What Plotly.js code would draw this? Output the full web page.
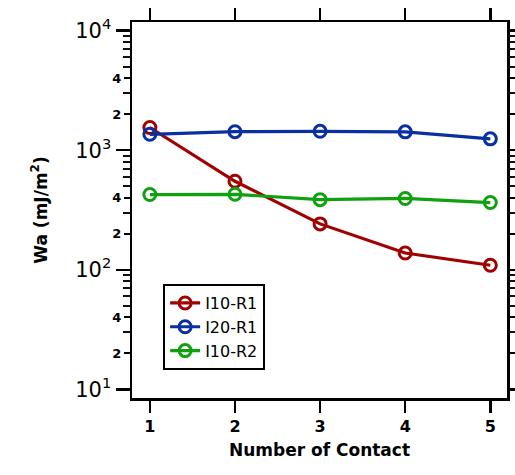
<!DOCTYPE html>
<html><head><meta charset="utf-8">
<script src="https://cdn.plot.ly/plotly-3.0.1.min.js"></script>
<style>html,body{margin:0;padding:0;background:#fff}</style>
</head><body>
<div id="chart" style="width:515px;height:475px"></div>
<script>
const contacts = [1, 2, 3, 4, 5];
const seriesNames = ["I10-R1", "I20-R1", "I10-R2"];
const i10r1 = [1550, 550, 242, 138, 109];
const i20r1 = [1360, 1430, 1440, 1425, 1245];
const i10r2 = [426, 428, 386, 395, 365];
const majorTicks = [10, 100, 1000, 10000];
const majorText = ["10<sup>1</sup>", "10<sup>2</sup>", "10<sup>3</sup>", "10<sup>4</sup>"];
const labeledMinor = [20, 40, 200, 400, 2000, 4000];
const labeledMinorText = ["2", "4", "2", "4", "2", "4"];
const minorTicks = [];
[10, 100, 1000].forEach(d => [3, 5, 6, 7, 8, 9].forEach(m => minorTicks.push(d*m)));
const minorText = minorTicks.map(() => "x");

const colors = ["#a00000", "#0a2fa0", "#10a010"];
const font = "DejaVu Sans, Verdana, sans-serif";
function tr(y, i) {
  return {x: contacts, y: y, name: seriesNames[i], mode: "lines+markers", type: "scatter",
    line: {color: colors[i], width: 3.2},
    marker: {symbol: "circle-open", size: 12, color: colors[i], line: {width: 3, color: colors[i]}}};
}
const dummy = ax => ({x:[1], y:[100], yaxis: ax, mode:"markers", marker:{opacity:0}, showlegend:false, hoverinfo:"skip"});
const data = [tr(i10r1,0), tr(i20r1,1), tr(i10r2,2), dummy("y2"), dummy("y3")];
const yr = [0.927, 4.073];
const layout = {
  width: 515, height: 475,
  margin: {l: 132, r: 8, t: 22, b: 77},
  paper_bgcolor: "#fff", plot_bgcolor: "#fff",
  font: {family: font, color: "#000"},
  showlegend: true,
  legend: {x: 0.083, y: 0.303, xanchor: "left", yanchor: "top",
    bordercolor: "#000", borderwidth: 2, bgcolor: "#fff",
    font: {size: 16, family: font}, tracegroupgap: 0},
  xaxis: {range: [0.79, 5.196], tickvals: contacts, ticktext: contacts.map(String),
    ticks: "outside", ticklen: 12, tickwidth: 2.5, tickcolor: "#000",
    showline: true, linewidth: 2.5, linecolor: "#000", mirror: "allticks",
    showgrid: false, zeroline: false,
    tickfont: {size: 16, family: font, weight: "bold"},
    title: {text: "Number of Contact", font: {size: 17, family: font, weight: "bold"}, standoff: 10}},
  yaxis: {type: "log", range: yr, tickmode: "array", tickvals: majorTicks, ticktext: majorText,
    ticks: "outside", ticklen: 14, tickwidth: 2.5, tickcolor: "#000",
    showline: true, linewidth: 2.5, linecolor: "#000", mirror: "allticks",
    showgrid: false, zeroline: false,
    minor: {tickmode: "array", tickvals: minorTicks, ticks: "outside", ticklen: 7, tickwidth: 2, tickcolor: "#000", showgrid: false},
    tickfont: {size: 21, family: font},
    title: {text: "Wa (mJ/m<sup>2</sup>)", font: {size: 17, family: font, weight: "bold"}, standoff: 24}},
  yaxis2: {type: "log", range: yr, overlaying: "y", side: "left", tickmode: "array", tickvals: labeledMinor, ticktext: labeledMinorText,
    ticks: "outside", ticklen: 7, tickwidth: 2.2, tickcolor: "#000", mirror: "allticks",
    showline: false, showgrid: false, zeroline: false,
    tickfont: {size: 13, family: font, weight: "bold"}},
  yaxis3: {type: "log", range: yr, overlaying: "y", side: "left", tickmode: "array", tickvals: minorTicks, ticktext: minorText,
    ticks: "outside", ticklen: 7, tickwidth: 2, tickcolor: "#111", mirror: "allticks",
    showline: false, showgrid: false, zeroline: false,
    tickfont: {size: 11, family: font, color: "rgba(0,0,0,0)"}}
};
Plotly.newPlot("chart", data, layout, {displayModeBar: false, staticPlot: true});
</script>
</body></html>
